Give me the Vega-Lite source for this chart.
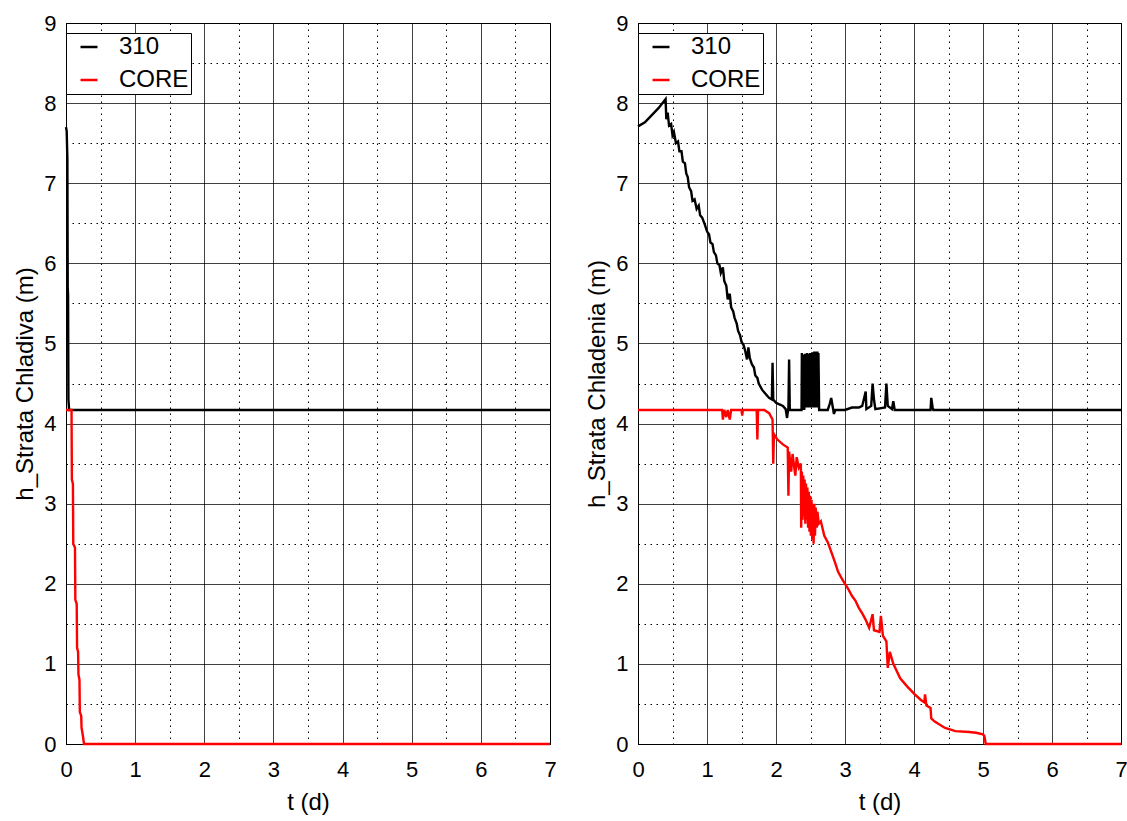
{
  "$schema": "https://vega.github.io/schema/vega-lite/v6.json",
  "padding": {"left": 13, "top": 11, "right": 1, "bottom": 2},
  "background": "white",
  "spacing": 88,
  "bounds": "flush",
  "datasets": {
    "left": [
      {"series": "310", "t": 0, "h": 7.7},
      {"series": "310", "t": 0.01, "h": 7.65},
      {"series": "310", "t": 0.02, "h": 7.3},
      {"series": "310", "t": 0.025, "h": 5.7},
      {"series": "310", "t": 0.03, "h": 5.6},
      {"series": "310", "t": 0.035, "h": 4.3},
      {"series": "310", "t": 0.045, "h": 4.17},
      {"series": "310", "t": 7, "h": 4.17},
      {"series": "CORE", "t": 0, "h": 4.17},
      {"series": "CORE", "t": 0.08, "h": 4.17},
      {"series": "CORE", "t": 0.085, "h": 3.3},
      {"series": "CORE", "t": 0.1, "h": 3.25},
      {"series": "CORE", "t": 0.105, "h": 2.5},
      {"series": "CORE", "t": 0.13, "h": 2.45},
      {"series": "CORE", "t": 0.135, "h": 1.8},
      {"series": "CORE", "t": 0.155, "h": 1.75},
      {"series": "CORE", "t": 0.16, "h": 1.2},
      {"series": "CORE", "t": 0.175, "h": 1.15},
      {"series": "CORE", "t": 0.18, "h": 0.87},
      {"series": "CORE", "t": 0.195, "h": 0.8},
      {"series": "CORE", "t": 0.2, "h": 0.4},
      {"series": "CORE", "t": 0.22, "h": 0.35},
      {"series": "CORE", "t": 0.225, "h": 0.2},
      {"series": "CORE", "t": 0.245, "h": 0.1},
      {"series": "CORE", "t": 0.26, "h": 0},
      {"series": "CORE", "t": 7, "h": 0}
    ],
    "right": [
      {"series": "310", "t": 0, "h": 7.71},
      {"series": "310", "t": 0.1, "h": 7.76},
      {"series": "310", "t": 0.2, "h": 7.85},
      {"series": "310", "t": 0.3, "h": 7.94},
      {"series": "310", "t": 0.4, "h": 8.05},
      {"series": "310", "t": 0.41, "h": 7.8},
      {"series": "310", "t": 0.43, "h": 7.88},
      {"series": "310", "t": 0.45, "h": 7.72},
      {"series": "310", "t": 0.48, "h": 7.74},
      {"series": "310", "t": 0.5, "h": 7.6},
      {"series": "310", "t": 0.52, "h": 7.64},
      {"series": "310", "t": 0.55, "h": 7.5},
      {"series": "310", "t": 0.58, "h": 7.52},
      {"series": "310", "t": 0.6, "h": 7.4},
      {"series": "310", "t": 0.63, "h": 7.4},
      {"series": "310", "t": 0.65, "h": 7.27},
      {"series": "310", "t": 0.68, "h": 7.25},
      {"series": "310", "t": 0.7, "h": 7.12},
      {"series": "310", "t": 0.72, "h": 7.08},
      {"series": "310", "t": 0.74, "h": 6.95},
      {"series": "310", "t": 0.77, "h": 6.9},
      {"series": "310", "t": 0.79, "h": 6.78},
      {"series": "310", "t": 0.82, "h": 6.8},
      {"series": "310", "t": 0.85, "h": 6.68},
      {"series": "310", "t": 0.88, "h": 6.72},
      {"series": "310", "t": 0.9, "h": 6.6},
      {"series": "310", "t": 0.93, "h": 6.57},
      {"series": "310", "t": 0.97, "h": 6.48},
      {"series": "310", "t": 1.0, "h": 6.4},
      {"series": "310", "t": 1.03, "h": 6.36},
      {"series": "310", "t": 1.05, "h": 6.26},
      {"series": "310", "t": 1.08, "h": 6.24},
      {"series": "310", "t": 1.1, "h": 6.14},
      {"series": "310", "t": 1.13, "h": 6.1},
      {"series": "310", "t": 1.15, "h": 6.0},
      {"series": "310", "t": 1.18, "h": 5.98},
      {"series": "310", "t": 1.2, "h": 5.88},
      {"series": "310", "t": 1.23, "h": 5.95},
      {"series": "310", "t": 1.25, "h": 5.78},
      {"series": "310", "t": 1.28, "h": 5.72},
      {"series": "310", "t": 1.3, "h": 5.55},
      {"series": "310", "t": 1.33, "h": 5.62},
      {"series": "310", "t": 1.35, "h": 5.45},
      {"series": "310", "t": 1.38, "h": 5.4},
      {"series": "310", "t": 1.4, "h": 5.32},
      {"series": "310", "t": 1.43, "h": 5.25},
      {"series": "310", "t": 1.45, "h": 5.16},
      {"series": "310", "t": 1.48, "h": 5.1},
      {"series": "310", "t": 1.5, "h": 5.02},
      {"series": "310", "t": 1.53, "h": 4.98},
      {"series": "310", "t": 1.55, "h": 4.92},
      {"series": "310", "t": 1.58, "h": 4.8},
      {"series": "310", "t": 1.6, "h": 4.95},
      {"series": "310", "t": 1.62, "h": 4.82},
      {"series": "310", "t": 1.65, "h": 4.74},
      {"series": "310", "t": 1.68, "h": 4.7},
      {"series": "310", "t": 1.7, "h": 4.6},
      {"series": "310", "t": 1.73, "h": 4.57},
      {"series": "310", "t": 1.75, "h": 4.5},
      {"series": "310", "t": 1.8, "h": 4.42},
      {"series": "310", "t": 1.85, "h": 4.37},
      {"series": "310", "t": 1.9, "h": 4.32},
      {"series": "310", "t": 1.94, "h": 4.3},
      {"series": "310", "t": 1.95, "h": 4.76},
      {"series": "310", "t": 1.96, "h": 4.3},
      {"series": "310", "t": 2.0, "h": 4.26},
      {"series": "310", "t": 2.05, "h": 4.24},
      {"series": "310", "t": 2.1, "h": 4.22},
      {"series": "310", "t": 2.14, "h": 4.18},
      {"series": "310", "t": 2.16, "h": 4.07},
      {"series": "310", "t": 2.18, "h": 4.2},
      {"series": "310", "t": 2.19, "h": 4.8},
      {"series": "310", "t": 2.2, "h": 4.17},
      {"series": "310", "t": 2.37, "h": 4.17},
      {"series": "310", "t": 2.375, "h": 4.88},
      {"series": "310", "t": 2.38, "h": 4.17},
      {"series": "310", "t": 2.39, "h": 4.85},
      {"series": "310", "t": 2.395, "h": 4.17},
      {"series": "310", "t": 2.405, "h": 4.86},
      {"series": "310", "t": 2.41, "h": 4.17},
      {"series": "310", "t": 2.42, "h": 4.87},
      {"series": "310", "t": 2.425, "h": 4.2},
      {"series": "310", "t": 2.435, "h": 4.86},
      {"series": "310", "t": 2.44, "h": 4.2},
      {"series": "310", "t": 2.45, "h": 4.88},
      {"series": "310", "t": 2.455, "h": 4.2},
      {"series": "310", "t": 2.465, "h": 4.87},
      {"series": "310", "t": 2.47, "h": 4.2},
      {"series": "310", "t": 2.48, "h": 4.87},
      {"series": "310", "t": 2.485, "h": 4.2},
      {"series": "310", "t": 2.495, "h": 4.88},
      {"series": "310", "t": 2.5, "h": 4.2},
      {"series": "310", "t": 2.51, "h": 4.88},
      {"series": "310", "t": 2.515, "h": 4.2},
      {"series": "310", "t": 2.525, "h": 4.89},
      {"series": "310", "t": 2.53, "h": 4.2},
      {"series": "310", "t": 2.54, "h": 4.89},
      {"series": "310", "t": 2.545, "h": 4.2},
      {"series": "310", "t": 2.555, "h": 4.9},
      {"series": "310", "t": 2.56, "h": 4.2},
      {"series": "310", "t": 2.57, "h": 4.9},
      {"series": "310", "t": 2.575, "h": 4.2},
      {"series": "310", "t": 2.585, "h": 4.9},
      {"series": "310", "t": 2.59, "h": 4.2},
      {"series": "310", "t": 2.6, "h": 4.9},
      {"series": "310", "t": 2.605, "h": 4.2},
      {"series": "310", "t": 2.615, "h": 4.88},
      {"series": "310", "t": 2.625, "h": 4.17},
      {"series": "310", "t": 2.75, "h": 4.17},
      {"series": "310", "t": 2.78, "h": 4.25},
      {"series": "310", "t": 2.8, "h": 4.32},
      {"series": "310", "t": 2.82, "h": 4.22},
      {"series": "310", "t": 2.84, "h": 4.12},
      {"series": "310", "t": 2.86, "h": 4.17},
      {"series": "310", "t": 3.0, "h": 4.17},
      {"series": "310", "t": 3.1, "h": 4.2},
      {"series": "310", "t": 3.2, "h": 4.2},
      {"series": "310", "t": 3.25, "h": 4.22},
      {"series": "310", "t": 3.3, "h": 4.4},
      {"series": "310", "t": 3.31, "h": 4.18},
      {"series": "310", "t": 3.38, "h": 4.22},
      {"series": "310", "t": 3.4, "h": 4.5},
      {"series": "310", "t": 3.42, "h": 4.3},
      {"series": "310", "t": 3.44, "h": 4.18},
      {"series": "310", "t": 3.58, "h": 4.2},
      {"series": "310", "t": 3.6, "h": 4.5},
      {"series": "310", "t": 3.62, "h": 4.22},
      {"series": "310", "t": 3.68, "h": 4.18},
      {"series": "310", "t": 3.7, "h": 4.28},
      {"series": "310", "t": 3.72, "h": 4.17},
      {"series": "310", "t": 4.24, "h": 4.17},
      {"series": "310", "t": 4.25, "h": 4.32},
      {"series": "310", "t": 4.27, "h": 4.2},
      {"series": "310", "t": 4.28, "h": 4.17},
      {"series": "310", "t": 7, "h": 4.17},
      {"series": "CORE", "t": 0, "h": 4.17},
      {"series": "CORE", "t": 1.22, "h": 4.17},
      {"series": "CORE", "t": 1.23, "h": 4.05},
      {"series": "CORE", "t": 1.25, "h": 4.17},
      {"series": "CORE", "t": 1.28, "h": 4.08},
      {"series": "CORE", "t": 1.3, "h": 4.17},
      {"series": "CORE", "t": 1.33, "h": 4.05},
      {"series": "CORE", "t": 1.35, "h": 4.17},
      {"series": "CORE", "t": 1.5, "h": 4.17},
      {"series": "CORE", "t": 1.51, "h": 4.1},
      {"series": "CORE", "t": 1.52, "h": 4.17},
      {"series": "CORE", "t": 1.72, "h": 4.17},
      {"series": "CORE", "t": 1.73, "h": 3.8},
      {"series": "CORE", "t": 1.74, "h": 4.17},
      {"series": "CORE", "t": 1.83, "h": 4.17},
      {"series": "CORE", "t": 1.9, "h": 4.13},
      {"series": "CORE", "t": 1.95, "h": 4.05},
      {"series": "CORE", "t": 1.96, "h": 3.5},
      {"series": "CORE", "t": 1.97, "h": 3.87},
      {"series": "CORE", "t": 2.02, "h": 3.8},
      {"series": "CORE", "t": 2.1, "h": 3.74},
      {"series": "CORE", "t": 2.17, "h": 3.7},
      {"series": "CORE", "t": 2.18, "h": 3.1},
      {"series": "CORE", "t": 2.19, "h": 3.65},
      {"series": "CORE", "t": 2.22, "h": 3.4},
      {"series": "CORE", "t": 2.24, "h": 3.62},
      {"series": "CORE", "t": 2.28, "h": 3.35},
      {"series": "CORE", "t": 2.3, "h": 3.58},
      {"series": "CORE", "t": 2.33, "h": 3.45},
      {"series": "CORE", "t": 2.36, "h": 3.5},
      {"series": "CORE", "t": 2.365, "h": 2.7},
      {"series": "CORE", "t": 2.375, "h": 3.4},
      {"series": "CORE", "t": 2.385, "h": 2.8},
      {"series": "CORE", "t": 2.395, "h": 3.35},
      {"series": "CORE", "t": 2.405, "h": 2.85},
      {"series": "CORE", "t": 2.415, "h": 3.3},
      {"series": "CORE", "t": 2.425, "h": 2.75},
      {"series": "CORE", "t": 2.435, "h": 3.25},
      {"series": "CORE", "t": 2.445, "h": 2.8},
      {"series": "CORE", "t": 2.455, "h": 3.2},
      {"series": "CORE", "t": 2.465, "h": 2.7},
      {"series": "CORE", "t": 2.475, "h": 3.15},
      {"series": "CORE", "t": 2.485, "h": 2.65},
      {"series": "CORE", "t": 2.495, "h": 3.1},
      {"series": "CORE", "t": 2.505, "h": 2.6},
      {"series": "CORE", "t": 2.515, "h": 3.05},
      {"series": "CORE", "t": 2.525, "h": 2.55},
      {"series": "CORE", "t": 2.535, "h": 3.0},
      {"series": "CORE", "t": 2.545, "h": 2.5},
      {"series": "CORE", "t": 2.555, "h": 3.0},
      {"series": "CORE", "t": 2.565, "h": 2.6},
      {"series": "CORE", "t": 2.575, "h": 2.95},
      {"series": "CORE", "t": 2.59, "h": 2.7},
      {"series": "CORE", "t": 2.6, "h": 2.9},
      {"series": "CORE", "t": 2.62, "h": 2.75},
      {"series": "CORE", "t": 2.65, "h": 2.78},
      {"series": "CORE", "t": 2.7, "h": 2.6},
      {"series": "CORE", "t": 2.75, "h": 2.52},
      {"series": "CORE", "t": 2.8, "h": 2.4},
      {"series": "CORE", "t": 2.85, "h": 2.28},
      {"series": "CORE", "t": 2.9, "h": 2.15},
      {"series": "CORE", "t": 2.95, "h": 2.07},
      {"series": "CORE", "t": 3.0, "h": 2.0},
      {"series": "CORE", "t": 3.05, "h": 1.93},
      {"series": "CORE", "t": 3.1, "h": 1.85},
      {"series": "CORE", "t": 3.15, "h": 1.79},
      {"series": "CORE", "t": 3.2, "h": 1.7},
      {"series": "CORE", "t": 3.25, "h": 1.63},
      {"series": "CORE", "t": 3.3, "h": 1.55},
      {"series": "CORE", "t": 3.35, "h": 1.45},
      {"series": "CORE", "t": 3.4, "h": 1.62},
      {"series": "CORE", "t": 3.42, "h": 1.42},
      {"series": "CORE", "t": 3.5, "h": 1.4},
      {"series": "CORE", "t": 3.52, "h": 1.6},
      {"series": "CORE", "t": 3.55, "h": 1.35},
      {"series": "CORE", "t": 3.6, "h": 1.28},
      {"series": "CORE", "t": 3.62, "h": 0.95},
      {"series": "CORE", "t": 3.65, "h": 1.15},
      {"series": "CORE", "t": 3.7, "h": 1.0},
      {"series": "CORE", "t": 3.8, "h": 0.82},
      {"series": "CORE", "t": 3.9, "h": 0.72},
      {"series": "CORE", "t": 4.0, "h": 0.63},
      {"series": "CORE", "t": 4.1, "h": 0.55},
      {"series": "CORE", "t": 4.15, "h": 0.52},
      {"series": "CORE", "t": 4.16, "h": 0.62},
      {"series": "CORE", "t": 4.18, "h": 0.48},
      {"series": "CORE", "t": 4.24, "h": 0.45},
      {"series": "CORE", "t": 4.25, "h": 0.32},
      {"series": "CORE", "t": 4.3, "h": 0.28},
      {"series": "CORE", "t": 4.45, "h": 0.2},
      {"series": "CORE", "t": 4.6, "h": 0.16},
      {"series": "CORE", "t": 4.8, "h": 0.15},
      {"series": "CORE", "t": 4.9, "h": 0.14},
      {"series": "CORE", "t": 5.0, "h": 0.12},
      {"series": "CORE", "t": 5.02, "h": 0.1},
      {"series": "CORE", "t": 5.04, "h": 0.0},
      {"series": "CORE", "t": 7, "h": 0}
    ]
  },
  "resolve": {"legend": {"color": "independent"}},
  "hconcat": [
    {
      "width": 484,
      "height": 721,
      "data": {"name": "left"},
      "mark": {"type": "line", "strokeWidth": 2.4},
      "encoding": {
        "x": {"field": "t", "type": "quantitative", "title": "t (d)",
          "scale": {"domain": [0, 7], "nice": false},
          "axis": {"values": [0, 0.5, 1, 1.5, 2, 2.5, 3, 3.5, 4, 4.5, 5, 5.5, 6, 6.5, 7],
            "labelExpr": "datum.value % 1 ? '' : format(datum.value, 'd')",
            "gridDash": {"condition": {"test": "datum.value % 1 !== 0", "value": [1.5, 4.5]}, "value": [1, 0]}}},
        "y": {"field": "h", "type": "quantitative", "title": "h_Strata Chladiva (m)",
          "scale": {"domain": [0, 9], "nice": false},
          "axis": {"values": [0, 0.5, 1, 1.5, 2, 2.5, 3, 3.5, 4, 4.5, 5, 5.5, 6, 6.5, 7, 7.5, 8, 8.5, 9],
            "labelExpr": "datum.value % 1 ? '' : format(datum.value, 'd')",
            "gridDash": {"condition": {"test": "datum.value % 1 !== 0", "value": [1.5, 4.5]}, "value": [1, 0]}}},
        "color": {"field": "series", "type": "nominal",
          "scale": {"domain": ["310", "CORE"], "range": ["#000000", "#ff0000"]},
          "legend": {"orient": "none", "legendX": 0, "legendY": 10, "title": null}}
      }
    },
    {
      "width": 483,
      "height": 721,
      "data": {"name": "right"},
      "mark": {"type": "line", "strokeWidth": 2.4},
      "encoding": {
        "x": {"field": "t", "type": "quantitative", "title": "t (d)",
          "scale": {"domain": [0, 7], "nice": false},
          "axis": {"values": [0, 0.5, 1, 1.5, 2, 2.5, 3, 3.5, 4, 4.5, 5, 5.5, 6, 6.5, 7],
            "labelExpr": "datum.value % 1 ? '' : format(datum.value, 'd')",
            "gridDash": {"condition": {"test": "datum.value % 1 !== 0", "value": [1.5, 4.5]}, "value": [1, 0]}}},
        "y": {"field": "h", "type": "quantitative", "title": "h_Strata Chladenia (m)",
          "scale": {"domain": [0, 9], "nice": false},
          "axis": {"values": [0, 0.5, 1, 1.5, 2, 2.5, 3, 3.5, 4, 4.5, 5, 5.5, 6, 6.5, 7, 7.5, 8, 8.5, 9],
            "labelExpr": "datum.value % 1 ? '' : format(datum.value, 'd')",
            "gridDash": {"condition": {"test": "datum.value % 1 !== 0", "value": [1.5, 4.5]}, "value": [1, 0]}}},
        "color": {"field": "series", "type": "nominal",
          "scale": {"domain": ["310", "CORE"], "range": ["#000000", "#ff0000"]},
          "legend": {"orient": "none", "legendX": 0, "legendY": 10, "title": null}}
      }
    }
  ],
  "config": {
    "font": "Liberation Sans",
    "view": {"stroke": "#000000", "strokeWidth": 1},
    "axis": {
      "domainColor": "#000000",
      "domainWidth": 1,
      "ticks": false,
      "grid": true,
      "gridColor": "#000000",
      "gridWidth": 1,
      "gridOpacity": 1,
      "labelFontSize": 22,
      "labelColor": "#000000",
      "labelFlush": false,
      "labelOverlap": false,
      "titleFontSize": 24,
      "titleFontWeight": "normal",
      "titleColor": "#000000"
    },
    "axisX": {"labelPadding": 15, "titlePadding": 10},
    "axisY": {"labelPadding": 10, "titlePadding": 6},
    "legend": {
      "strokeColor": "#000000",
      "fillColor": "#ffffff",
      "padding": 2,
      "symbolType": "stroke",
      "symbolSize": 289,
      "symbolStrokeWidth": 2.5,
      "symbolOffset": 9,
      "labelFontSize": 24,
      "labelColor": "#000000",
      "labelOffset": 18,
      "rowPadding": 9,
      "cornerRadius": 0
    }
  }
}
